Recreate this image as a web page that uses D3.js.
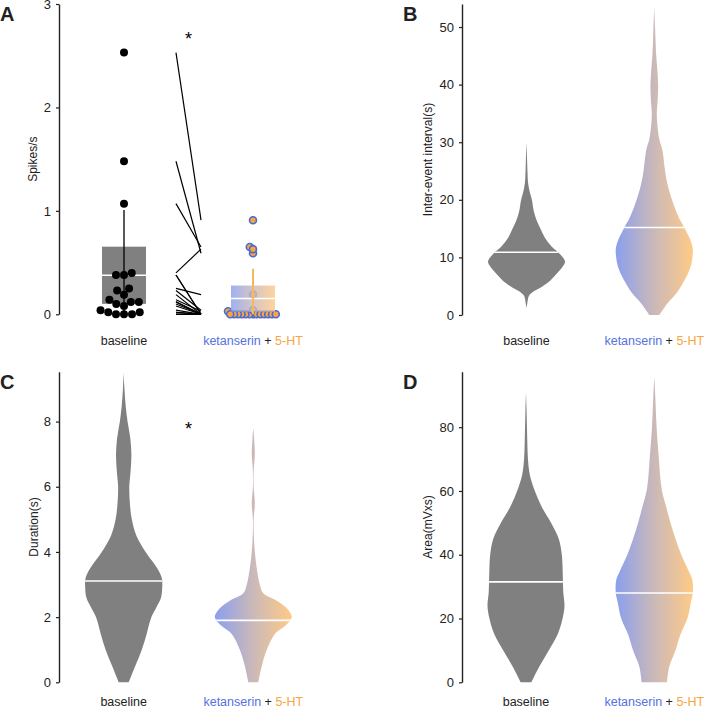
<!DOCTYPE html>
<html><head><meta charset="utf-8">
<script src="https://cdn.jsdelivr.net/npm/d3@7"></script>
<style>
body{margin:0;background:#fff}
svg{display:block}
text{font-family:"Liberation Sans",Arial,Helvetica,sans-serif}
</style>
</head><body>
<svg id="chart" width="704" height="708"></svg>
<script>
// ---------------- DATA ----------------
const categories = ["baseline", "ketanserin + 5-HT"];

// Panel A: spikes/s per cell (paired)
const spikesBaseline = [2.53,1.48,1.07,0.40,0.38,0.38,0.25,0.23,0.19,0.14,0.12,0.12,0.10,0.08,0.04,0.02,0.02,0,0,0];
const spikesKet      = [0.91,0.59,0.65,0.63,0,0,0.19,0.04,0,0.03,0,0,0,0,0,0,0,0,0,0];

// Tick labels
const ticksA = [0,1,2,3];
const ticksB = [0,10,20,30,40,50];
const ticksC = [0,2,4,6,8];
const ticksD = [0,20,40,60,80];

// Axis maxima
const axisMax = [3, 54, 9.53, 97.4];

// Violin profiles: [value, relative density]
const ieiBaseline = [[1.2,0],[2,0.02],[3.5,0.08],[5,0.42],[6,0.62],[7.3,0.8],[8.5,0.95],[9.3,1.0],[10.5,0.88],[12,0.64],[13.5,0.47],[15,0.36],[16.5,0.26],[18,0.19],[20,0.14],[21.5,0.08],[23,0.04],[25,0.025],[27,0.015],[30,0]];
const ieiKet = [[0,0.13],[2,0.34],[4,0.6],[5.5,0.74],[7,0.86],[8.5,0.95],[10,0.99],[11.5,1.0],[13,0.94],[15.3,0.77],[17,0.63],[20,0.46],[22.8,0.34],[25,0.28],[28.6,0.21],[30.5,0.13],[33,0.08],[35,0.065],[37.5,0.09],[40,0.1],[42.5,0.08],[45,0.05],[48,0.03],[50,0.02],[53.5,0]];
const ieiMedians = [10.9, 15.2];

const durBaseline = [[0,0.13],[0.5,0.3],[1,0.47],[1.5,0.6],[2,0.72],[2.3,0.85],[2.6,0.97],[2.9,1.0],[3.2,0.99],[3.5,0.87],[3.75,0.72],[4,0.57],[4.5,0.33],[5,0.21],[5.5,0.16],[6,0.145],[6.5,0.18],[7,0.2],[7.5,0.17],[8,0.1],[8.5,0.05],[9,0.02],[9.5,0]];
const durKet = [[0,0.13],[0.5,0.22],[1,0.35],[1.5,0.57],[1.7,0.79],[1.9,0.96],[2.02,1.0],[2.27,0.87],[2.53,0.57],[2.73,0.26],[3.04,0.16],[3.5,0.09],[4,0.04],[4.5,0.015],[5,0.01],[5.5,0.04],[6,0.01],[6.5,0.01],[7,0.04],[7.5,0.02],[7.8,0]];
const durMedians = [3.11, 1.9];

const areaBaseline = [[0,0.14],[5,0.35],[10,0.59],[15,0.82],[20,0.95],[24,1.0],[28,0.97],[31.5,0.96],[36,0.95],[40,0.93],[45,0.85],[50,0.65],[55,0.41],[60,0.23],[65,0.1],[70,0.05],[75,0.035],[80,0.025],[85,0.015],[91,0]];
const areaKet = [[0,0.33],[5,0.39],[10,0.55],[15,0.68],[20,0.86],[25,0.95],[28,1.0],[32,0.99],[35,0.89],[40,0.7],[45,0.55],[50,0.42],[55,0.31],[60,0.2],[65,0.15],[70,0.12],[80,0.06],[90,0.025],[96,0]];
const areaMedians = [31.5, 28.0];

// ---------------- STYLE / LAYOUT ----------------
const C_GRAY = "#808080", C_AX = "#222";
const C_BLUE = "#5572df", C_ORANGE = "#f7a53e";
const svg = d3.select("#chart");
const defs = svg.append("defs");
const grad = defs.append("linearGradient").attr("id","ketGrad")
  .attr("x1","0").attr("x2","1").attr("y1","0").attr("y2","0");
grad.append("stop").attr("offset","0").attr("stop-color","#8b9fee");
grad.append("stop").attr("offset","0.5").attr("stop-color","#cbb9b8");
grad.append("stop").attr("offset","1").attr("stop-color","#ffca86");

const panels = [
  {id:"A", ax:59,  top:4,     bot:314.3, ticks:ticksA, max:axisMax[0], title:"Spikes/s", titleOff:26, cats:[124,253], labY:345},
  {id:"B", ax:462, top:4,     bot:315,   ticks:ticksB, max:axisMax[1], title:"Inter-event interval(s)", titleOff:34, cats:[526.5,654.3], labY:345},
  {id:"C", ax:59,  top:371.7, bot:682.3, ticks:ticksC, max:axisMax[2], title:"Duration(s)", titleOff:25, cats:[123.7,253.3], labY:706},
  {id:"D", ax:462, top:371.7, bot:682.3, ticks:ticksD, max:axisMax[3], title:"Area(mVxs)", titleOff:34, cats:[526,654.3], labY:706}
];

panels.forEach(p => {
  p.y = d3.scaleLinear().domain([0, p.max]).range([p.bot, p.top]);
  p.x = d3.scalePoint().domain(categories).range(p.cats).padding(0);
  const g = svg.append("g");
  p.g = g;
  // axis
  const axis = d3.axisLeft(p.y).tickValues(p.ticks).tickFormat(d3.format("d"))
    .tickSize(3).tickPadding(5).tickSizeOuter(0);
  const ag = g.append("g").attr("transform",`translate(${p.ax},0)`).call(axis);
  ag.select(".domain").attr("stroke",C_AX).attr("stroke-width",1.4);
  ag.selectAll(".tick line").attr("stroke",C_AX).attr("stroke-width",1.2);
  ag.selectAll(".tick text").attr("fill",C_AX).style("font-size","13px")
    .style("font-family",'"Liberation Sans",Arial,sans-serif');
  // y title
  g.append("text").attr("transform",`translate(${p.ax-p.titleOff},${(p.top+p.bot)/2}) rotate(-90)`)
    .attr("text-anchor","middle").attr("dy","0.35em").style("font-size","12px").attr("fill",C_AX)
    .text(p.title);
  // panel letter
  g.append("text").attr("x", p.ax - 59).attr("y", p.top + 17)
    .style("font-size","20px").style("font-weight","bold").attr("fill","#222").text(p.id);
  // category labels
  g.append("text").attr("x",p.x(categories[0])).attr("y",p.labY).attr("text-anchor","middle")
    .style("font-size","12.5px").attr("fill","#222").text(categories[0]);
  const kt = g.append("text").attr("x",p.x(categories[1])).attr("y",p.labY).attr("text-anchor","middle")
    .style("font-size","12.5px");
  kt.append("tspan").attr("fill",C_BLUE).text("ketanserin");
  kt.append("tspan").attr("fill","#222").text(" + ");
  kt.append("tspan").attr("fill",C_ORANGE).text("5-HT");
});

// ---------------- PANEL A ----------------
function swarm(values, y, sep) {
  const idx = values.map((v,i)=>i).sort((a,b)=>values[a]-values[b]);
  const placed = [], offs = new Array(values.length);
  for (const i of idx) {
    const py = y(values[i]);
    const iv = [];
    for (const q of placed) {
      const dy = Math.abs(q.y - py);
      if (dy < sep) { const dx = Math.sqrt(sep*sep - dy*dy); iv.push([q.x-dx, q.x+dx]); }
    }
    const cands = [0]; iv.forEach(([a,b]) => cands.push(a,b));
    cands.sort((a,b) => Math.abs(a)-Math.abs(b));
    let best = 0;
    for (const c of cands) { if (iv.every(([a,b]) => c <= a+1e-6 || c >= b-1e-6)) { best = c; break; } }
    offs[i] = best; placed.push({x:best, y:py});
  }
  return offs;
}
function stats(vals) {
  const m = d3.mean(vals), sd = d3.deviation(vals), sem = sd/Math.sqrt(vals.length);
  return {mean:m, lo:m-1.96*sem, hi:m+1.96*sem, wlo:Math.max(0,m-sd), whi:m+sd};
}
(function(){
  const p = panels[0], g = p.g, y = p.y;
  const bx = p.x(categories[0]), kx = p.x(categories[1]);
  const bw = 44;
  // baseline
  const sb = stats(spikesBaseline);
  g.append("rect").attr("x",bx-bw/2).attr("width",bw).attr("y",y(sb.hi)).attr("height",y(sb.lo)-y(sb.hi)).attr("fill",C_GRAY);
  g.append("line").attr("x1",bx-bw/2).attr("x2",bx+bw/2).attr("y1",y(sb.mean)).attr("y2",y(sb.mean)).attr("stroke","#fff").attr("stroke-width",1.5);
  g.append("line").attr("x1",bx).attr("x2",bx).attr("y1",y(sb.wlo)).attr("y2",y(sb.whi)).attr("stroke","#000").attr("stroke-width",1.3);
  const ob = swarm(spikesBaseline, y, 8);
  g.append("g").selectAll("circle").data(spikesBaseline).join("circle")
    .attr("cx",(d,i)=>bx+ob[i]).attr("cy",d=>y(d)).attr("r",4).attr("fill","#000");
  // paired lines
  const lx = d3.scaleLinear().domain([0,1]).range([bx,kx]);
  g.append("g").selectAll("line").data(spikesBaseline).join("line")
    .attr("x1",lx(0.403)).attr("x2",lx(0.597))
    .attr("y1",d=>y(d)).attr("y2",(d,i)=>y(spikesKet[i]))
    .attr("stroke","#000").attr("stroke-width",1.2);
  // ketanserin
  const sk = stats(spikesKet);
  const ok = swarm(spikesKet, y, 3.8);
  g.append("g").selectAll("circle").data(spikesKet).join("circle")
    .attr("cx",(d,i)=>kx+ok[i]).attr("cy",d=>y(d)).attr("r",3.5)
    .attr("fill",C_ORANGE).attr("stroke","#4a69d8").attr("stroke-width",1.6);
  g.append("rect").attr("x",kx-bw/2).attr("width",bw).attr("y",y(sk.hi)).attr("height",y(sk.lo)-y(sk.hi))
    .attr("fill","url(#ketGrad)").attr("fill-opacity",0.82);
  g.append("line").attr("x1",kx-bw/2).attr("x2",kx+bw/2).attr("y1",y(sk.mean)).attr("y2",y(sk.mean)).attr("stroke","#fff").attr("stroke-width",1.5);
  g.append("line").attr("x1",kx).attr("x2",kx).attr("y1",y(sk.wlo)).attr("y2",y(sk.whi)).attr("stroke","#f8b65e").attr("stroke-width",2);
  // significance
  g.append("text").attr("x",lx(0.5)).attr("y",45).attr("text-anchor","middle").style("font-size","18px").attr("fill","#000").text("*");
})();

// ---------------- VIOLINS ----------------
const wScale = d3.scaleLinear().domain([0,1]).range([0,38.5]);
let clipId = 0;
function violin(p, cat, profile, median, fill) {
  const cx = p.x(cat), y = p.y, g = p.g;
  const area = d3.area().curve(d3.curveCatmullRom.alpha(0.5))
    .y(d=>y(d[0])).x0(d=>cx - wScale(d[1])).x1(d=>cx + wScale(d[1]));
  const dstr = area(profile);
  const id = "vclip" + (clipId++);
  defs.append("clipPath").attr("id",id).append("path").attr("d",dstr);
  g.append("path").attr("d",dstr).attr("fill",fill);
  g.append("line").attr("clip-path",`url(#${id})`)
    .attr("x1",cx-45).attr("x2",cx+45).attr("y1",y(median)).attr("y2",y(median))
    .attr("stroke","#fff").attr("stroke-width",1.6);
}
violin(panels[1], categories[0], ieiBaseline, ieiMedians[0], C_GRAY);
violin(panels[1], categories[1], ieiKet, ieiMedians[1], "url(#ketGrad)");
violin(panels[2], categories[0], durBaseline, durMedians[0], C_GRAY);
violin(panels[2], categories[1], durKet, durMedians[1], "url(#ketGrad)");
violin(panels[3], categories[0], areaBaseline, areaMedians[0], C_GRAY);
violin(panels[3], categories[1], areaKet, areaMedians[1], "url(#ketGrad)");
// significance C
(function(){
  const p = panels[2];
  const lx = d3.scaleLinear().domain([0,1]).range(p.cats);
  p.g.append("text").attr("x",lx(0.5)).attr("y",435).attr("text-anchor","middle").style("font-size","18px").attr("fill","#000").text("*");
})();
</script>
</body></html>
